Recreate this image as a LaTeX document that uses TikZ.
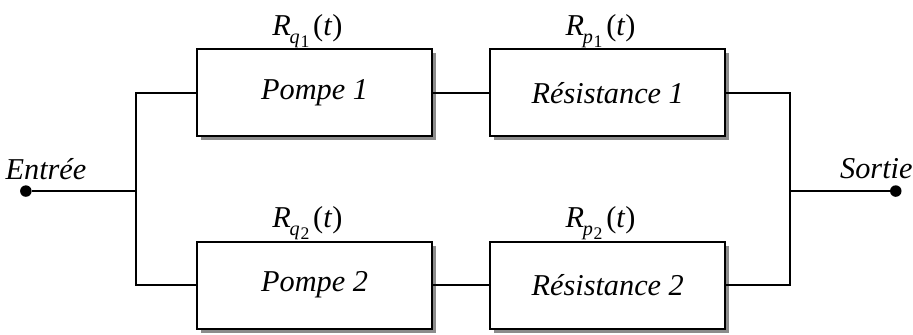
\documentclass[tikz,border=0pt]{standalone}
\usepackage{fontspec}
\setmainfont{Liberation Serif}[ItalicFont={Liberation Serif Italic}]
\usetikzlibrary{shadows,positioning}
\newcommand{\fiab}[2]{\textit{R}\kern-0.5pt\raisebox{-0.6ex}{\footnotesize\textit{#1}\kern0.3pt\raisebox{-0.4ex}{\scriptsize #2}}\kern1.5pt(\textit{t})}

\begin{document}
\begin{tikzpicture}[
  bloc/.style={draw,fill=white,line width=0.8pt,minimum width=3.27cm,minimum height=1.21cm,font=\large\itshape,
    drop shadow={opacity=1,fill=black!45,shadow xshift=1.6pt,shadow yshift=-1.6pt}},
  fil/.style={line width=0.7pt},
  borne/.style={circle,fill,inner sep=0pt,minimum size=0.16cm},
  etiq/.style={inner sep=0pt,xshift=-0.1cm,font=\large}]
  \useasboundingbox (0,0) rectangle (12.71,4.65);
  \def\yh{3.36}
  \def\yb{0.68}
  \def\ym{1.99}
  % les quatre blocs
  \node[bloc] (p1) at (4.38,\yh) {Pompe 1};
  \node[bloc] (r1) at (8.46,\yh) {Résistance 1};
  \node[bloc] (p2) at (4.38,\yb) {Pompe 2};
  \node[bloc] (r2) at (8.46,\yb) {Résistance 2};
  \node[etiq,above=0pt of p1] (lp1) {\fiab{q}{1}};
  \node[etiq,above=0pt of r1] (lr1) {\fiab{p}{1}};
  \node[etiq,above=0pt of p2] (lp2) {\fiab{q}{2}};
  \node[etiq,above=0pt of r2] (lr2) {\fiab{p}{2}};
  % entree et sortie
  \node[borne] (e) at (0.36,\ym) {};
  \node[borne] (s) at (12.47,\ym) {};
  \node[font=\large\itshape] (te) at (0.64,2.3) {Entrée};
  \node[font=\large\itshape] (ts) at (12.2,2.3) {Sortie};
  \coordinate (jl) at (1.89,\ym);
  \coordinate (jr) at (11.0,\ym);
  \draw[fil] (e) -- (jl);
  \draw[fil] (p1.west) -| (jl) |- (p2.west);
  \draw[fil] (p1.east) -- (r1.west);
  \draw[fil] (p2.east) -- (r2.west);
  \draw[fil] (r1.east) -| (jr) |- (r2.east);
  \draw[fil] (jr) -- (s);
\end{tikzpicture}
\end{document}
